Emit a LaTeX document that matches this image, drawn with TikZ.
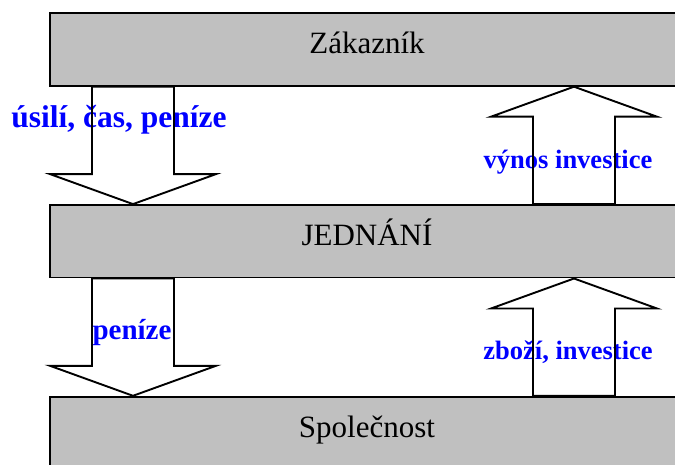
\documentclass[tikz,border=0pt]{standalone}
\usepackage{fontspec}
\setmainfont{Liberation Serif}
\usetikzlibrary{calc,positioning}
\definecolor{bargray}{RGB}{192,192,192}
\definecolor{flowblue}{RGB}{0,0,255}

% block arrow from tail to tip (vertical)
\newcommand\blockarrow[2]{%
  \draw[blockarr] ($(#1)+(-41,0)$) -- ($(#2)!30pt!(#1)+(-41,0)$) -- ($(#2)!30pt!(#1)+(-83,0)$)
    -- (#2) -- ($(#2)!30pt!(#1)+(83,0)$) -- ($(#2)!30pt!(#1)+(41,0)$) -- ($(#1)+(41,0)$) -- cycle;}

\begin{document}
\begin{tikzpicture}[x=1pt,y=-1pt,
  bar/.style={draw, line width=1.9pt, fill=bargray, minimum width=634pt, minimum height=72.5pt,
    inner sep=0pt, text height=9pt, text depth=0pt, font=\fontsize{31}{36}\selectfont},
  flowlbl/.style={text=flowblue, inner sep=0pt, anchor=base},
  blockarr/.style={draw, line width=1.9pt, line join=miter}]
\clip (0,0) rectangle (675,465);

% Levels
\node[bar] (cust) at (367,49.5) {Zákazník};
\node[bar] (deal) at (367,241.3) {JEDNÁNÍ};
\node[bar] (firm) at (367,433) {Společnost};

\coordinate (lx) at (133,0);
\coordinate (rx) at (574,0);

% Labels
\node[flowlbl, font=\bfseries\fontsize{31.5}{36}\selectfont] (effort) at (119,127.3) {úsilí, čas, peníze};
\node[flowlbl, font=\bfseries\fontsize{26.5}{32}\selectfont] (yield) at (568,168.3) {výnos investice};
\node[flowlbl, font=\bfseries\fontsize{29}{34}\selectfont] (money) at (132,339.3) {peníze};
\node[flowlbl, font=\bfseries\fontsize{26.5}{32}\selectfont] (goods) at (568,359.3) {zboží, investice};

% Flows
\blockarrow{cust.south -| lx}{deal.north -| lx}
\blockarrow{deal.north -| rx}{cust.south -| rx}
\blockarrow{deal.south -| lx}{firm.north -| lx}
\blockarrow{firm.north -| rx}{deal.south -| rx}
\end{tikzpicture}
\end{document}
